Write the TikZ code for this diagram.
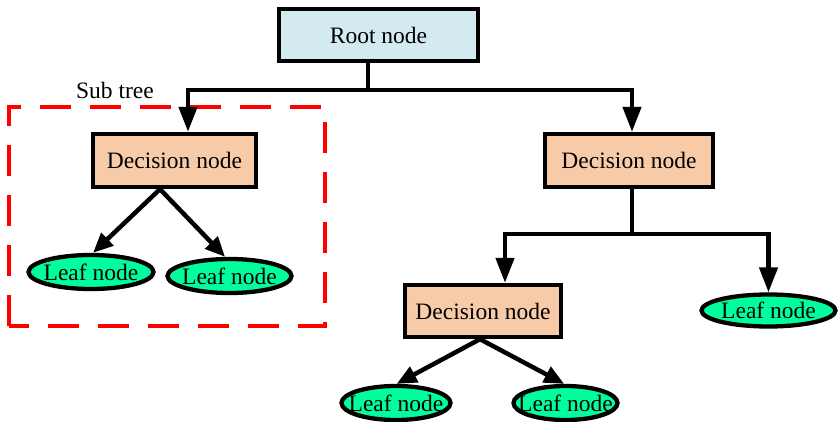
\documentclass[tikz,border=0pt]{standalone}
\usepackage{fontspec}
\setmainfont{Liberation Serif}
\usetikzlibrary{arrows.meta,shapes.geometric}
\definecolor{rootfill}{HTML}{D3EBF0}
\definecolor{decfill}{HTML}{F8CBA8}
\definecolor{leaffill}{HTML}{00FF9C}
\begin{document}
\begin{tikzpicture}[x=1pt,y=-1pt,
  font=\fontsize{23.5}{27}\selectfont,
  box/.style={draw, line width=4.3pt, inner sep=0pt, anchor=center},
  rootbox/.style={box, fill=rootfill, minimum width=199pt, minimum height=52pt},
  decbox/.style={box, fill=decfill, minimum height=53pt},
  leaf/.style={ellipse, draw, line width=4.3pt, fill=leaffill, inner sep=0pt, minimum height=34pt},
  link/.style={line width=4.5pt},
  bigarrow/.style={link, -{Triangle[length=25pt,width=18pt]}},
  smallarrow/.style={link, -{Triangle[length=20pt,width=17pt]}},
  subtree/.style={draw=red, line width=4.3pt, dash pattern=on 31pt off 19pt}]
\useasboundingbox (0,0) rectangle (838,422);

% sub tree frame and its caption
\draw[subtree] (9,326) -- (9,107) -- (325,107) -- (325,326) -- cycle;
\node (cap) at (115,90) {Sub tree};

% nodes
\node[rootbox] (root) at (378.5,35) {Root node};
\node[decbox, minimum width=163pt] (ld) at (174.5,160.5) {Decision node};
\node[decbox, minimum width=168pt] (rd) at (629,160.5) {Decision node};
\node[decbox, minimum width=156pt, minimum height=52pt] (lo) at (483,311) {Decision node};

\node[leaf, minimum width=125pt] (l1) at (91,272) {\makebox[0pt]{Leaf node}};
\node[leaf, minimum width=124pt] (l2) at (229.5,276) {\makebox[0pt]{Leaf node}};
\node[leaf, minimum width=134pt, minimum height=32pt] (rl) at (768.5,310.5) {\makebox[0pt]{Leaf node}};
\node[leaf, minimum width=109pt] (b1) at (396,403) {\makebox[0pt]{Leaf node}};
\node[leaf, minimum width=104pt] (b2) at (565.5,403) {\makebox[0pt]{Leaf node}};

% root branching
\coordinate (rj) at (368,90);
\draw[link] (rj |- root.south) -- (rj);
\draw[bigarrow] (rj) -| ([xshift=13.5pt]ld.north);
\draw[bigarrow] (rj) -| ([xshift=3pt]rd.north);

% right decision branching
\coordinate (rdj) at (632,234);
\draw[link] (rdj |- rd.south) -- (rdj);
\draw[bigarrow] (rdj) -| ([xshift=22pt]lo.north);
\draw[bigarrow] (rdj) -| (rl.north);

% diagonal splits to leaves
\draw[smallarrow] ([xshift=-14.5pt]ld.south) -- (l1.84);
\draw[smallarrow] ([xshift=-14.5pt]ld.south) -- (l2.103);
\draw[smallarrow] ([xshift=-3pt]lo.south) -- (b1.88);
\draw[smallarrow] ([xshift=-3pt]lo.south) -- (b2.94);
\end{tikzpicture}
\end{document}
